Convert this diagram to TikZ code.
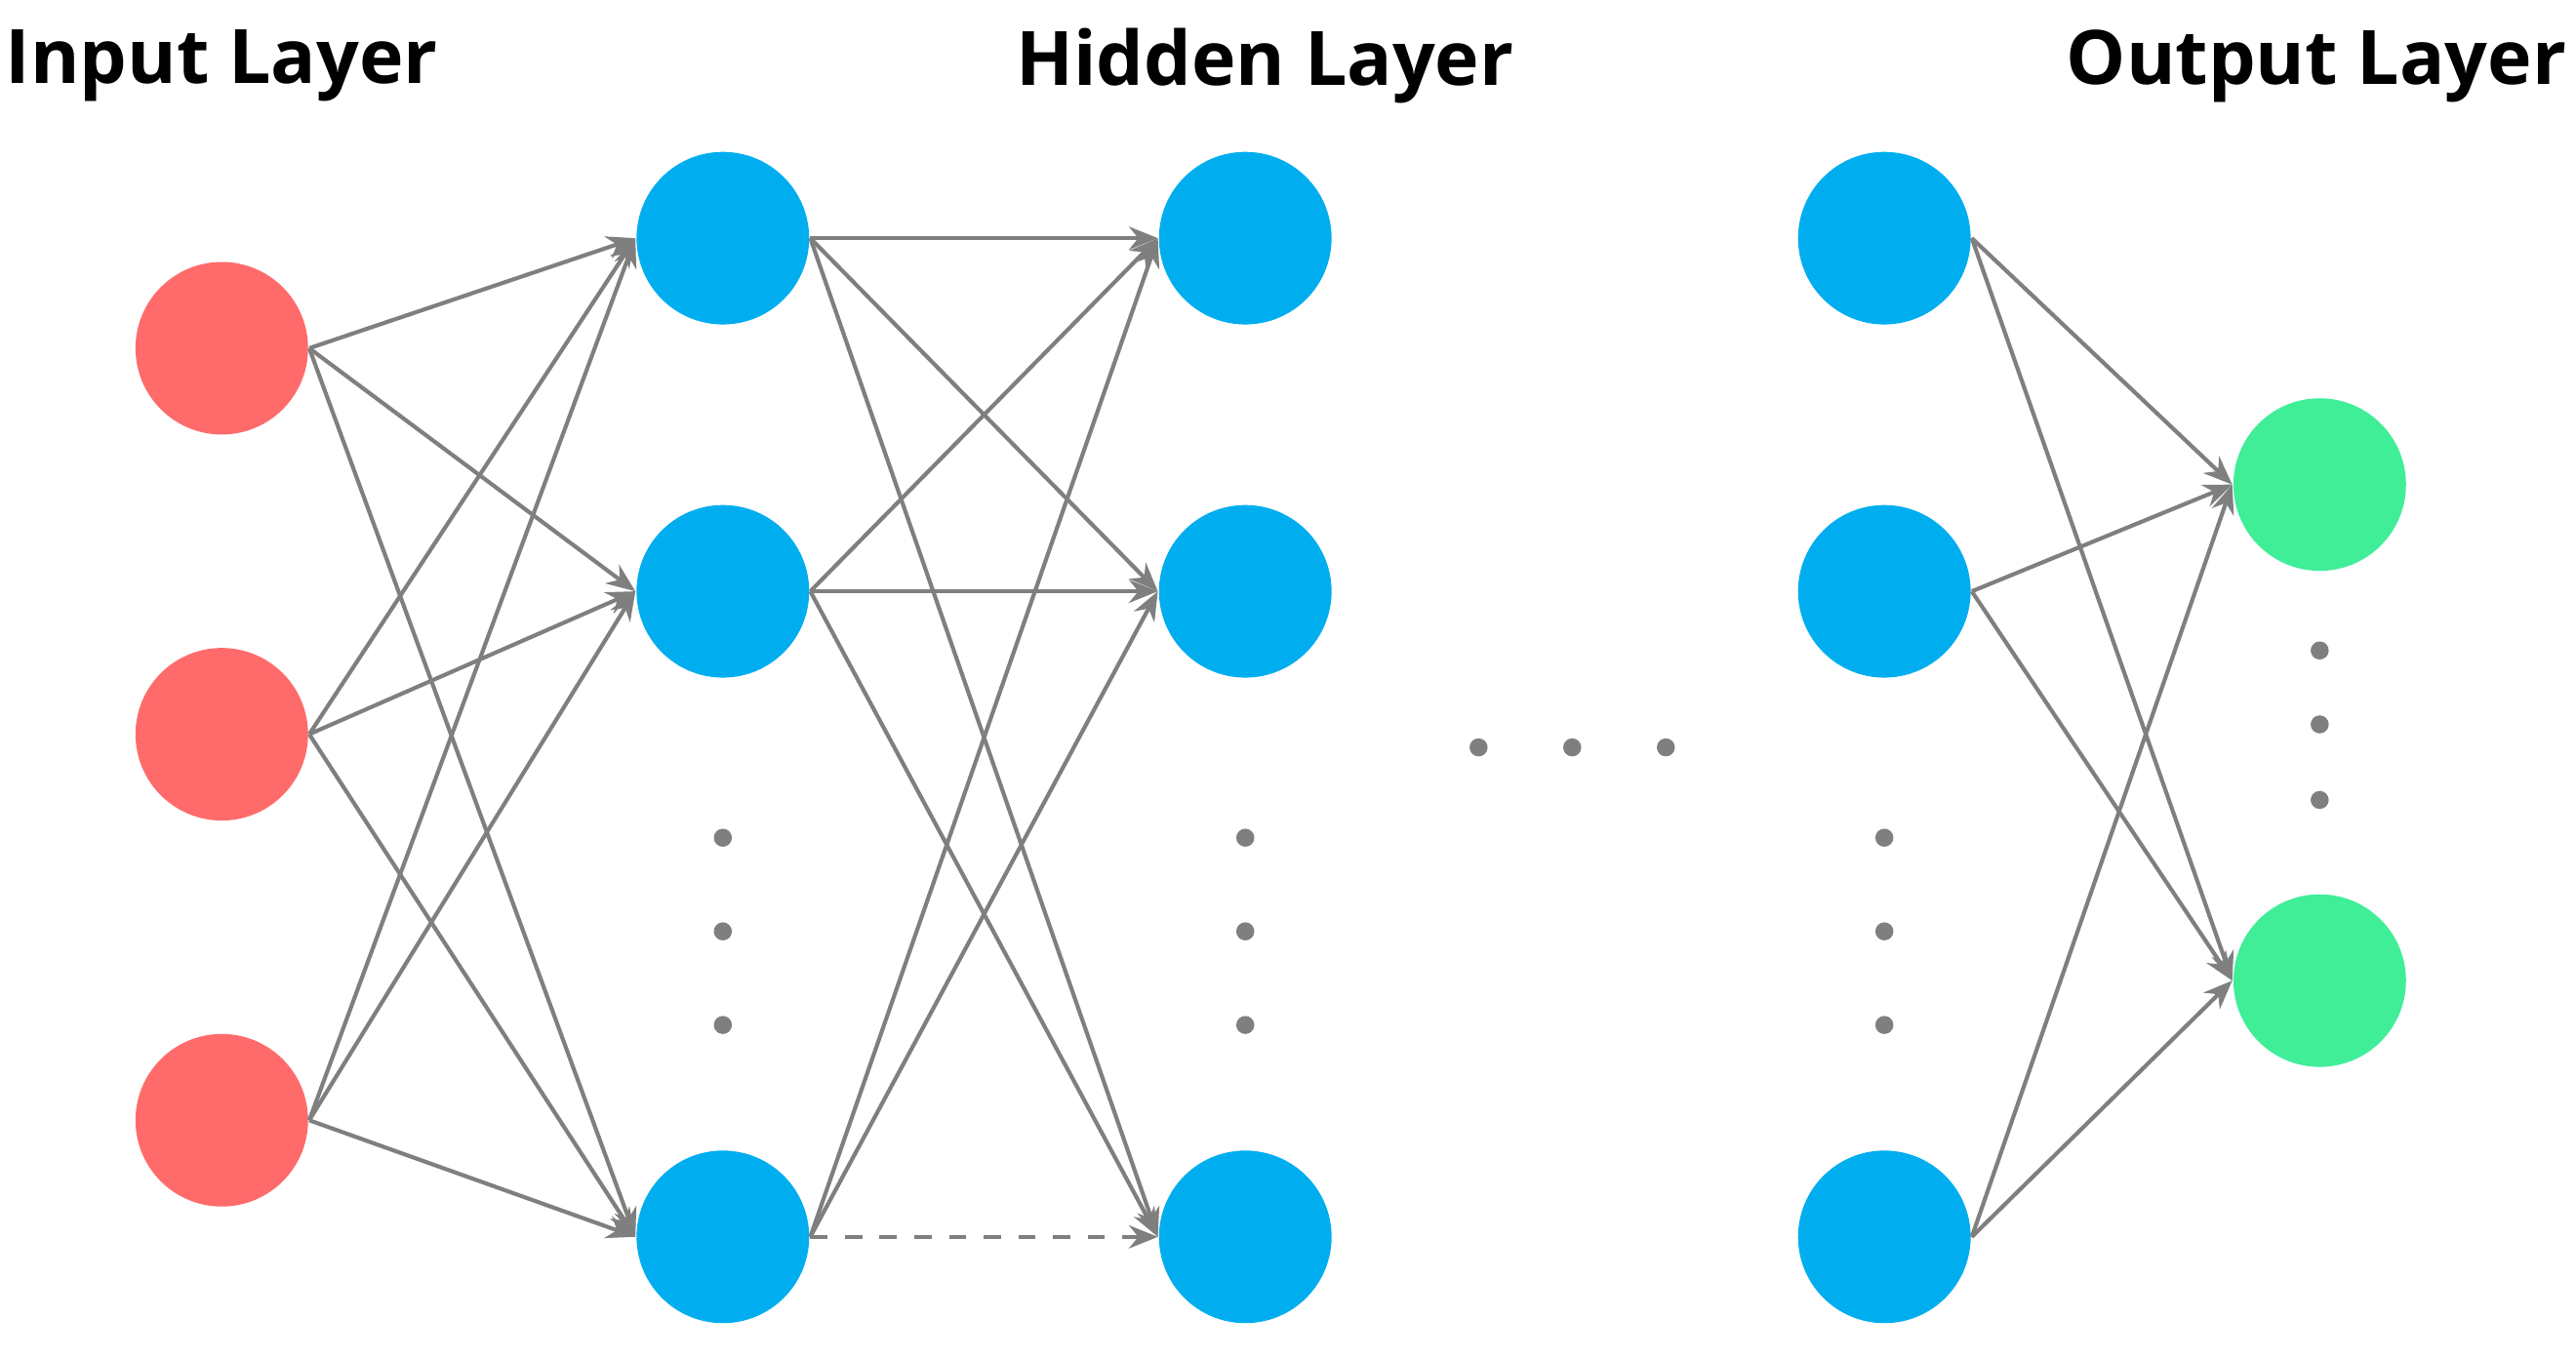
\documentclass[tikz,border=0pt]{standalone}
\usepackage{fontspec}
\setmainfont{Open Sans}
\usetikzlibrary{arrows.meta}
\definecolor{inred}{HTML}{FF6B6B}
\definecolor{hidblue}{HTML}{00AEEF}
\definecolor{outgreen}{HTML}{40EE98}
\definecolor{edge}{HTML}{7F7F7F}
\begin{document}
\begin{tikzpicture}[x=0.01cm,y=-0.01cm,
  neuron/.style={circle,minimum size=1.05cm,inner sep=0pt},
  innode/.style={neuron,fill=inred},
  hidnode/.style={neuron,fill=hidblue},
  outnode/.style={neuron,fill=outgreen},
  conn/.style={draw=edge,line width=0.7pt,-{Stealth[length=5pt,width=4pt]}},
  dot/.style={circle,fill=edge,minimum size=0.11cm,inner sep=0pt},
  title/.style={font=\bfseries\fontsize{13}{15}\selectfont,text=black}]
\useasboundingbox (0,0) rectangle (1568,827);
\node[title] (t1) at (135,40) {Input Layer};
\node[title] (t2) at (770,40) {Hidden Layer};
\node[title] (t3) at (1410,40) {Output Layer};
\foreach \n/\y in {1/212,2/447,3/682} \node[innode] (i\n) at (135,\y) {};
\foreach \n/\y in {1/145,2/360,3/753} {
  \node[hidnode] (a\n) at (440,\y) {};
  \node[hidnode] (b\n) at (758,\y) {};
  \node[hidnode] (c\n) at (1147,\y) {};
}
\node[outnode] (o1) at (1412,295) {};
\node[outnode] (o2) at (1412,597) {};
\foreach \i in {1,2,3} \foreach \j in {1,2,3} \draw[conn] (i\i.east) -- (a\j.west);
\foreach \i in {1,2,3} \foreach \j in {1,2,3} {
  \ifnum\i\j=33 \draw[conn,dashed] (a\i.east) -- (b\j.west);
  \else \draw[conn] (a\i.east) -- (b\j.west); \fi }
\foreach \i in {1,2,3} \foreach \j in {1,2} \draw[conn] (c\i.east) -- (o\j.west);
\foreach \x/\c in {440/a,758/b,1147/c} \foreach \y/\k in {510/1,567/2,624/3} \node[dot] (d\c\k) at (\x,\y) {};
\foreach \x/\k in {900/1,957/2,1014/3} \node[dot] (m\k) at (\x,455) {};
\foreach \y/\k in {396/1,441/2,487/3} \node[dot] (od\k) at (1412,\y) {};
\end{tikzpicture}
\end{document}
